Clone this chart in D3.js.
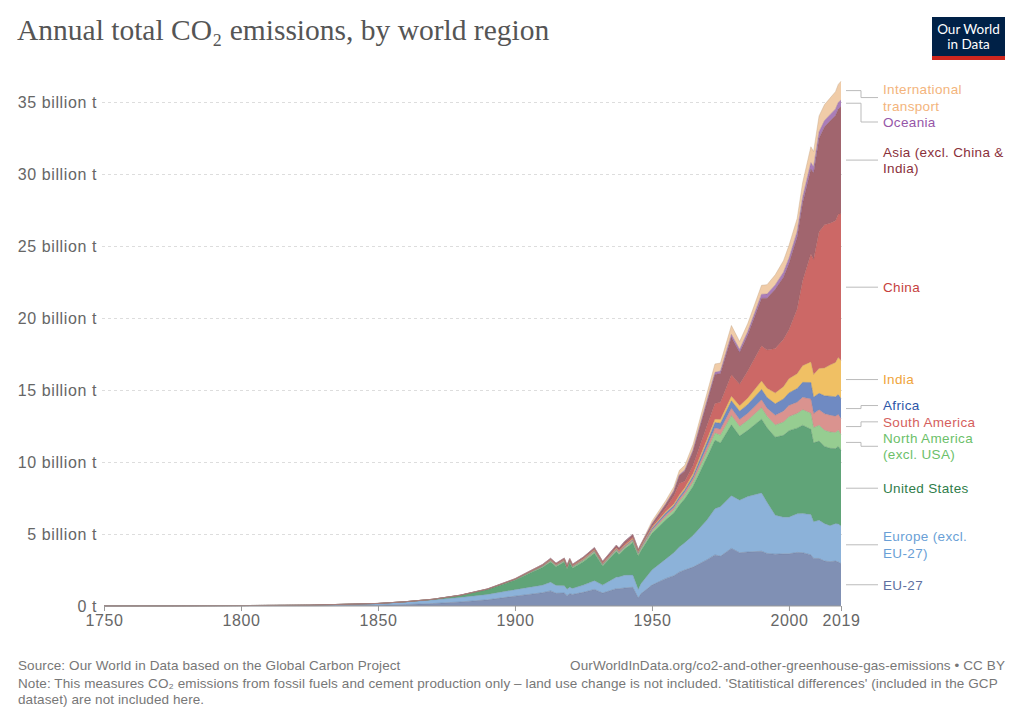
<!DOCTYPE html>
<html>
<head>
<meta charset="utf-8">
<script src="https://cdn.jsdelivr.net/npm/d3@7"></script>
<style>
  body { margin: 0; background: #fff; }
  svg { display: block; font-family: "Liberation Sans", Arial, sans-serif; }
</style>
</head>
<body>
<svg id="chart" width="1024" height="723"></svg>
<script>
// years sampled from the chart (billion tonnes CO2 per year)
const years = [1750,1775,1800,1825,1850,1860,1870,1880,1890,1900,1905,1910,1913,1915,1918,1919,1920,1921,1925,1929,
  1932,1937,1938,1940,1943,1945,1946,1950,1955,1958,1960,1962,1965,1970,1973,1975,1979,1982,1985,1990,
  1992,1995,1998,2000,2003,2005,2008,2009,2011,2013,2015,2017,2018,2019];

const eu27 = [0.001,0.002,0.005,0.012,0.05,0.1,0.17,0.28,0.43,0.68,0.8,0.92,1.05,0.88,0.9,0.72,0.85,0.8,0.95,1.15,
  0.9,1.2,1.2,1.25,1.3,0.55,0.85,1.45,1.9,2.1,2.35,2.5,2.7,3.2,3.55,3.45,4.0,3.7,3.75,3.8,
  3.65,3.6,3.62,3.62,3.72,3.7,3.55,3.3,3.3,3.12,3.08,3.12,3.05,2.95];
const europeExcl = [0.009,0.011,0.025,0.045,0.12,0.18,0.25,0.31,0.37,0.45,0.49,0.52,0.6,0.55,0.5,0.45,0.45,0.42,0.5,0.6,
  0.55,0.8,0.82,0.88,0.85,0.6,0.7,1.05,1.35,1.6,1.75,1.9,2.2,2.75,3.2,3.45,3.65,3.65,3.85,4.05,
  3.55,2.7,2.55,2.55,2.68,2.72,2.8,2.55,2.65,2.6,2.5,2.6,2.65,2.6];
const unitedStates = [0,0,0.0003,0.002,0.006,0.015,0.04,0.14,0.34,0.66,0.95,1.23,1.4,1.3,1.65,1.4,1.7,1.4,1.63,1.92,
  1.33,1.78,1.55,1.82,2.25,2.33,2.28,2.53,2.72,2.75,2.9,3.05,3.4,4.33,4.76,4.42,4.93,4.45,4.6,5.12,
  5.17,5.42,5.68,6.0,5.95,6.13,5.92,5.48,5.5,5.36,5.37,5.21,5.38,5.26];
const northAmericaExcl = [0,0,0,0.0002,0.0005,0.001,0.003,0.006,0.015,0.03,0.045,0.06,0.08,0.07,0.08,0.075,0.09,0.08,0.09,0.1,
  0.07,0.09,0.09,0.1,0.12,0.12,0.13,0.15,0.2,0.22,0.25,0.27,0.3,0.42,0.5,0.55,0.65,0.67,0.7,0.8,
  0.8,0.85,0.92,0.98,1.02,1.08,1.12,1.06,1.1,1.12,1.13,1.12,1.12,1.1];
const southAmerica = [0,0,0,0,0.0003,0.001,0.002,0.004,0.007,0.01,0.013,0.02,0.025,0.022,0.025,0.025,0.03,0.028,0.035,0.045,
  0.035,0.045,0.046,0.05,0.05,0.06,0.07,0.1,0.15,0.17,0.18,0.2,0.23,0.3,0.35,0.4,0.5,0.48,0.48,0.55,
  0.57,0.67,0.76,0.78,0.78,0.86,0.98,0.97,1.07,1.15,1.17,1.13,1.1,1.1];
const africa = [0,0,0,0,0.0002,0.0005,0.001,0.002,0.005,0.01,0.015,0.02,0.025,0.022,0.025,0.025,0.027,0.025,0.03,0.035,
  0.03,0.04,0.042,0.05,0.055,0.06,0.065,0.1,0.13,0.14,0.15,0.16,0.2,0.33,0.38,0.42,0.52,0.58,0.62,0.72,
  0.74,0.8,0.85,0.87,0.95,1.04,1.15,1.14,1.15,1.25,1.32,1.35,1.38,1.4];
const india = [0,0,0,0,0.0003,0.001,0.002,0.005,0.01,0.02,0.025,0.03,0.035,0.035,0.04,0.04,0.04,0.04,0.045,0.05,
  0.045,0.055,0.055,0.06,0.065,0.07,0.07,0.07,0.09,0.11,0.12,0.14,0.17,0.2,0.23,0.26,0.31,0.37,0.44,0.58,
  0.64,0.75,0.85,0.98,1.03,1.16,1.43,1.57,1.72,1.93,2.16,2.38,2.58,2.63];
const china = [0,0,0,0,0,0,0.0002,0.0005,0.002,0.01,0.015,0.02,0.025,0.025,0.03,0.03,0.03,0.03,0.035,0.04,
  0.045,0.06,0.06,0.09,0.1,0.06,0.05,0.08,0.25,0.55,0.8,0.45,0.55,0.95,1.1,1.2,1.5,1.5,1.9,2.45,
  2.65,3.1,3.3,3.4,4.5,5.9,7.5,8.0,9.5,9.95,9.85,9.85,9.95,10.2];
const asiaExcl = [0,0,0,0,0.001,0.001,0.002,0.005,0.01,0.02,0.03,0.05,0.06,0.06,0.07,0.07,0.07,0.065,0.08,0.1,
  0.09,0.14,0.15,0.17,0.16,0.06,0.07,0.15,0.25,0.32,0.55,0.7,1.0,1.6,2.0,2.0,2.6,2.2,2.5,3.3,
  3.6,4.1,4.3,4.6,5.0,5.4,5.9,6.0,6.5,6.8,7.1,7.3,7.3,7.45];
const oceania = [0,0,0,0,0.0002,0.0005,0.001,0.003,0.005,0.008,0.01,0.013,0.015,0.015,0.015,0.015,0.016,0.015,0.018,0.02,
  0.017,0.022,0.023,0.025,0.028,0.03,0.03,0.04,0.05,0.06,0.07,0.075,0.09,0.14,0.16,0.17,0.2,0.22,0.24,0.28,
  0.29,0.31,0.35,0.37,0.38,0.41,0.44,0.44,0.44,0.44,0.44,0.46,0.46,0.45];
const intlTransport = [0,0,0,0,0,0,0,0,0,0,0,0,0,0,0,0,0,0,0,0,
  0,0,0,0,0,0,0,0.17,0.22,0.26,0.3,0.33,0.38,0.5,0.58,0.55,0.62,0.55,0.55,0.62,
  0.65,0.7,0.8,0.88,0.9,1.0,1.1,1.05,1.1,1.1,1.15,1.2,1.25,1.3];

// stack order, bottom to top
const regionNames = ["EU-27", "Europe (excl. EU-27)", "United States", "North America (excl. USA)",
  "South America", "Africa", "India", "China", "Asia (excl. China & India)", "Oceania", "International transport"];
const regionValues = [eu27, europeExcl, unitedStates, northAmericaExcl, southAmerica, africa, india, china,
  asiaExcl, oceania, intlTransport];
const labelLines = [["EU-27"], ["Europe (excl.", "EU-27)"], ["United States"], ["North America", "(excl. USA)"],
  ["South America"], ["Africa"], ["India"], ["China"], ["Asia (excl. China &", "India)"], ["Oceania"],
  ["International", "transport"]];
const fillColors = ["#8090b4", "#8cb2d9", "#60a478", "#96cd91", "#da938f", "#6f8ac2", "#f0c064", "#cc6866",
  "#a1656e", "#aa7db9", "#f0cca8"];
const textColors = ["#6070a0", "#6a9fd6", "#2f7d4a", "#6cbf6a", "#d5605d", "#2d56a8", "#f0a43a", "#c63f3d",
  "#8a2f3a", "#9656a8", "#f3b47c"];

const yTicks = [0, 5, 10, 15, 20, 25, 30, 35];
const xTicks = [1750, 1800, 1850, 1900, 1950, 2000, 2019];

const title = "Annual total CO\u2082 emissions, by world region";
const sourceText = "Source: Our World in Data based on the Global Carbon Project";
const urlText = "OurWorldInData.org/co2-and-other-greenhouse-gas-emissions \u2022 CC BY";
const noteLines = ["Note: This measures CO\u2082 emissions from fossil fuels and cement production only \u2013 land use change is not included. 'Statitistical differences' (included in the GCP",
  "dataset) are not included here."];

function drawChart() {
  const svg = d3.select("#chart");
  const left = 104, right = 841, bottom = 606;
  const pxPerUnit = 14.4;

  const rows = years.map((yr, i) => {
    const row = {year: yr};
    regionNames.forEach((n, k) => { row[n] = regionValues[k][i]; });
    return row;
  });
  const series = d3.stack().keys(regionNames)(rows);
  const maxTotal = d3.max(series[series.length - 1], d => d[1]);

  const x = d3.scaleLinear().domain([1750, 2019]).range([left, right]);
  const y = d3.scaleLinear().domain([0, maxTotal]).range([bottom, bottom - maxTotal * pxPerUnit]);

  // title
  svg.append("text")
    .attr("x", 17).attr("y", 40)
    .attr("font-family", "'Liberation Serif', 'DejaVu Serif', serif")
    .attr("font-size", 29.5)
    .attr("fill", "#555")
    .text(title);

  // logo
  const logo = svg.append("g").attr("transform", "translate(932,17)");
  logo.append("rect").attr("width", 73).attr("height", 43).attr("fill", "#002147");
  logo.append("rect").attr("y", 39).attr("width", 73).attr("height", 4).attr("fill", "#ce261e");
  logo.append("text").attr("x", 36.5).attr("y", 17).attr("text-anchor", "middle")
    .attr("font-family", "Lato, sans-serif").attr("font-size", 13.5).attr("fill", "#fff").text("Our World");
  logo.append("text").attr("x", 36.5).attr("y", 32).attr("text-anchor", "middle")
    .attr("font-family", "Lato, sans-serif").attr("font-size", 13.5).attr("fill", "#fff").text("in Data");

  // y grid + labels
  const yAxis = d3.axisLeft(y).tickValues(yTicks)
    .tickSize(-(right - left + 3))
    .tickFormat(d => d === 0 ? "0 t" : d + " billion t");
  const gy = svg.append("g").attr("transform", `translate(${left - 2},0)`).call(yAxis);
  gy.select(".domain").remove();
  gy.selectAll(".tick line").attr("stroke", "#ddd").attr("stroke-dasharray", "3,3")
    .filter(d => d === 0).remove();
  gy.selectAll(".tick text").attr("x", -5).attr("fill", "#666")
    .attr("font-size", 16).attr("letter-spacing", 0.6)
    .attr("font-family", "'Liberation Sans', Arial, sans-serif");

  // stacked areas
  const area = d3.area()
    .x((d, i) => x(years[i]))
    .y0(d => y(d[0]))
    .y1(d => y(d[1]));
  const line = d3.line()
    .x((d, i) => x(years[i]))
    .y(d => y(d[1]));

  svg.append("g").selectAll("path")
    .data(series)
    .join("path")
    .attr("d", area)
    .attr("fill", (d, i) => fillColors[i]);
  svg.append("g").selectAll("path")
    .data(series)
    .join("path")
    .attr("d", line)
    .attr("fill", "none")
    .attr("stroke", (d, i) => d3.color(fillColors[i]).darker(0.6))
    .attr("stroke-width", 0.6)
    .attr("stroke-opacity", 0.7);

  // x axis
  const xAxis = d3.axisBottom(x).tickValues(xTicks).tickFormat(d3.format("d")).tickSize(5).tickPadding(4);
  const gx = svg.append("g").attr("transform", `translate(0,${bottom})`).call(xAxis);
  gx.select(".domain").attr("stroke", "#999").attr("d", `M${left},0H${right}`);
  gx.selectAll(".tick line").attr("stroke", "#999");
  gx.selectAll(".tick text").attr("fill", "#666").attr("font-size", 16).attr("letter-spacing", 0.6)
    .attr("font-family", "'Liberation Sans', Arial, sans-serif");

  // labels at the right end, pushed apart where they overlap
  const lineH = 16.3;
  const last = years.length - 1;
  const items = series.map((s, k) => ({
    k: k,
    target: y((s[last][0] + s[last][1]) / 2),
    h: labelLines[k].length * lineH
  })).sort((a, b) => a.target - b.target);

  const topLimit = y(maxTotal), bottomLimit = bottom;
  function place(g) {
    const c = g.w / g.h;
    g.top = Math.max(topLimit, Math.min(bottomLimit - g.h, c - g.h / 2));
  }
  let groups = items.map(d => ({items: [d], h: d.h, w: d.h * d.target}));
  groups.forEach(place);
  let merged = true;
  while (merged) {
    merged = false;
    for (let i = 0; i < groups.length - 1; i++) {
      const a = groups[i], b = groups[i + 1];
      if (a.top + a.h > b.top + 0.01) {
        const g = {items: a.items.concat(b.items), h: a.h + b.h, w: a.w + b.w};
        place(g);
        groups.splice(i, 2, g);
        merged = true;
        break;
      }
    }
  }
  groups.forEach(g => {
    let t = g.top;
    g.items.forEach(d => { d.top = t; d.center = t + d.h / 2; t += d.h; });
  });

  const lab = svg.append("g");
  items.forEach(d => {
    const midX = Math.abs(d.center - d.target) > 0.5 ? 861 : 878;
    lab.append("path")
      .attr("d", `M${right + 5},${d.target}H${midX}V${d.center}H878`)
      .attr("fill", "none").attr("stroke", "#bbb").attr("stroke-width", 1);
    const t = lab.append("text")
      .attr("font-size", 13.5).attr("letter-spacing", 0.35)
      .attr("fill", textColors[d.k]);
    labelLines[d.k].forEach((ln, j) => {
      t.append("tspan").attr("x", 883).attr("y", d.top + lineH * j + lineH * 0.5 + 4.8).text(ln);
    });
  });

  // footer
  const foot = svg.append("g").attr("fill", "#777").attr("font-size", 13.5).attr("letter-spacing", 0.1)
    .attr("font-family", "'Liberation Sans', Arial, sans-serif");
  foot.append("text").attr("x", 18).attr("y", 670).text(sourceText);
  foot.append("text").attr("x", 1005).attr("y", 670).attr("text-anchor", "end").text(urlText);
  noteLines.forEach((ln, i) => {
    foot.append("text").attr("x", 18).attr("y", 688 + i * 16).text(ln);
  });
}

window.onload = drawChart;
</script>
</body>
</html>
